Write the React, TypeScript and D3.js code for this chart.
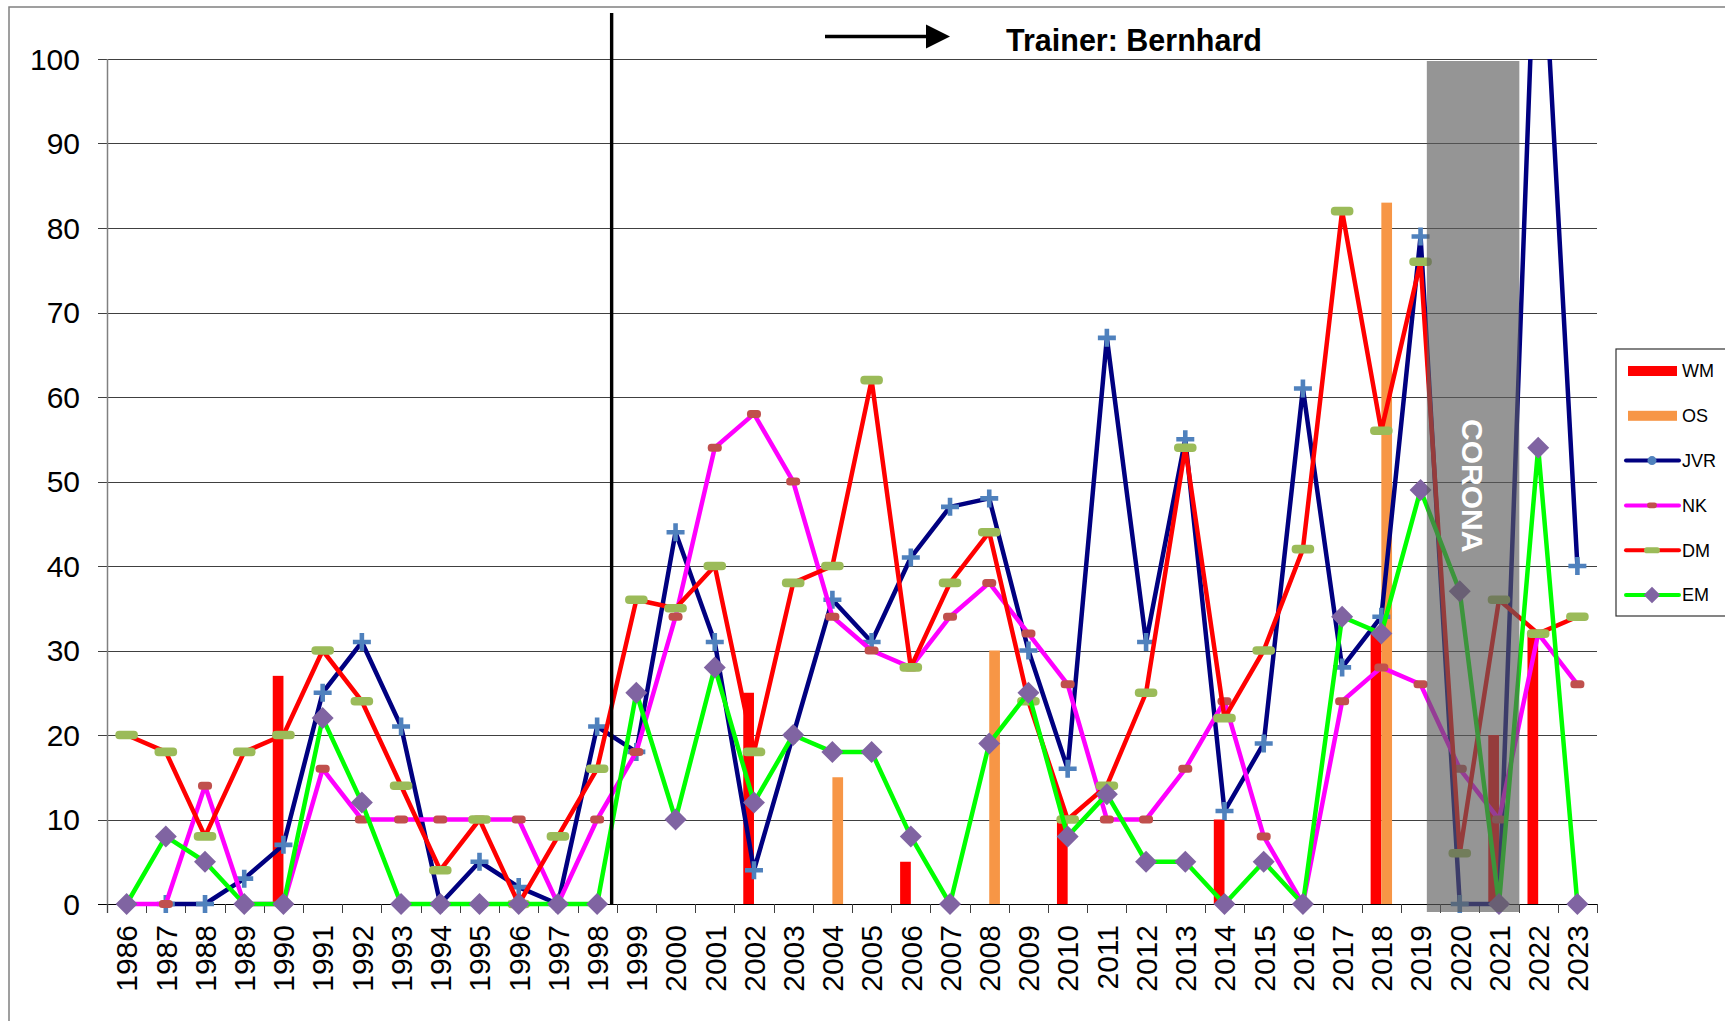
import { useEffect, useRef } from "react";
import * as d3 from "d3";

// categories
const years = [
  "1986", "1987", "1988", "1989", "1990", "1991", "1992", "1993", "1994", "1995",
  "1996", "1997", "1998", "1999", "2000", "2001", "2002", "2003", "2004", "2005",
  "2006", "2007", "2008", "2009", "2010", "2011", "2012", "2013", "2014", "2015",
  "2016", "2017", "2018", "2019", "2020", "2021", "2022", "2023",
];

// bar series (only years with a value)
const wmBars: [string, number][] = [
  ["1990", 27], ["2002", 25], ["2006", 5], ["2010", 10],
  ["2014", 10], ["2018", 32], ["2021", 20], ["2022", 32],
];
const osBars: [string, number][] = [["2004", 15], ["2008", 30], ["2018", 83]];

// line series, one value per year (null = no entry)
const jvr = [null, 0, 0, 3, 7, 25, 31, 21, 0, 5, 2, 0, 21, 18, 44, 31, 4, 20, 36, 31, 41, 47, 48, 30, 16, 67, 31, 55, 11, 19, 61, 28, 34, 79, 0, 0, 125, 40];
const nk = [0, 0, 14, 0, 0, 16, 10, 10, 10, 10, 10, 0, 10, 18, 34, 54, 58, 50, 34, 30, 28, 34, 38, 32, 26, 10, 10, 16, 24, 8, 0, 24, 28, 26, 16, 10, 32, 26];
const dm = [20, 18, 8, 18, 20, 30, 24, 14, 4, 10, 0, 8, 16, 36, 35, 40, 18, 38, 40, 62, 28, 38, 44, 24, 10, 14, 25, 54, 22, 30, 42, 82, 56, 76, 6, 36, 32, 34];
const em = [0, 8, 5, 0, 0, 22, 12, 0, 0, 0, 0, 0, 0, 25, 10, 28, 12, 20, 18, 18, 8, 0, 19, 25, 8, 13, 5, 5, 0, 5, 0, 34, 32, 49, 37, 0, 54, 0];

const yTicks = [0, 10, 20, 30, 40, 50, 60, 70, 80, 90, 100];

const FONT = "'Liberation Sans', Arial, sans-serif";
const W = 1725;
const H = 1021;

type Marker = "plus" | "dash" | "longdash" | "diamond";

const lineSeries: { name: string; values: (number | null)[]; color: string; marker: Marker; markerColor: string }[] = [
  { name: "JVR", values: jvr, color: "#000080", marker: "plus", markerColor: "#4F81BD" },
  { name: "NK", values: nk, color: "#FF00FF", marker: "dash", markerColor: "#C0504D" },
  { name: "DM", values: dm, color: "#FF0000", marker: "longdash", markerColor: "#9BBB59" },
  { name: "EM", values: em, color: "#00FF00", marker: "diamond", markerColor: "#8064A2" },
];

function drawMarker(sel: any, kind: Marker, color: string, s = 1) {
  if (kind === "plus") {
    sel.append("path")
      .attr("d", `M${-9 * s},0H${9 * s}M0,${-9 * s}V${9 * s}`)
      .attr("stroke", color)
      .attr("stroke-width", 4.6 * s)
      .attr("fill", "none");
  } else if (kind === "dash") {
    sel.append("rect")
      .attr("x", -7 * s).attr("y", -4 * s)
      .attr("width", 14 * s).attr("height", 8 * s)
      .attr("rx", 3.5 * s)
      .attr("fill", color);
  } else if (kind === "longdash") {
    sel.append("rect")
      .attr("x", -11.3 * s).attr("y", -4.3 * s)
      .attr("width", 22.6 * s).attr("height", 8.6 * s)
      .attr("rx", 4 * s)
      .attr("fill", color);
  } else {
    sel.append("path")
      .attr("d", `M0,${-11 * s}L${11 * s},0L0,${11 * s}L${-11 * s},0Z`)
      .attr("fill", color);
  }
}

export default function App() {
  const ref = useRef<SVGSVGElement>(null);

  useEffect(() => {
    const el = ref.current;
    if (!el) return;
    const svg = d3.select(el);
    svg.selectAll("*").remove();

    const left = 107;
    const right = 1597;
    const top = 59;
    const bottom = 904;

    const x = d3.scaleBand<string>().domain(years).range([left, right]).padding(0);
    const step = x.step();
    const cx = (yr: string) => (x(yr) as number) + step / 2;
    const y = d3.scaleLinear().domain([0, 100]).range([bottom, top]);
    const barW = 10.7;
    const sub = d3.scaleBand<string>().domain(["WM", "OS"]).range([step / 2 - barW, step / 2 + barW]);

    // outer frame
    svg.append("rect")
      .attr("x", 9).attr("y", 7).attr("width", W + 50).attr("height", H + 50)
      .attr("fill", "#fff").attr("stroke", "#808080").attr("stroke-width", 1.5);

    const defs = svg.append("defs");
    defs.append("clipPath").attr("id", "plotclip")
      .append("rect").attr("x", 0).attr("y", top).attr("width", W).attr("height", H - top);

    // gridlines + y labels
    const grid = svg.append("g");
    yTicks.forEach((t) => {
      grid.append("line")
        .attr("x1", left - 9).attr("x2", right)
        .attr("y1", Math.round(y(t)) + 0.5).attr("y2", Math.round(y(t)) + 0.5)
        .attr("stroke", t === 0 ? "#000" : "#404040")
        .attr("stroke-width", 1.2);
      grid.append("text")
        .attr("x", 80).attr("y", y(t)).attr("dy", "0.36em")
        .attr("text-anchor", "end")
        .attr("font-family", FONT).attr("font-size", 30)
        .attr("fill", "#000")
        .text(t);
    });
    // y axis line
    grid.append("line")
      .attr("x1", left + 0.5).attr("x2", left + 0.5)
      .attr("y1", top).attr("y2", bottom + 9)
      .attr("stroke", "#808080").attr("stroke-width", 1.5);

    // x ticks + labels
    const xAxis = svg.append("g");
    d3.range(years.length + 1).forEach((i) => {
      const xx = Math.round(left + i * step) + 0.5;
      xAxis.append("line")
        .attr("x1", xx).attr("x2", xx).attr("y1", bottom).attr("y2", bottom + 9)
        .attr("stroke", "#404040").attr("stroke-width", 1);
    });
    years.forEach((yr) => {
      xAxis.append("text")
        .attr("transform", `translate(${cx(yr)},925) rotate(-90)`)
        .attr("dy", "0.36em")
        .attr("text-anchor", "end")
        .attr("font-family", FONT).attr("font-size", 30)
        .attr("fill", "#000")
        .text(yr);
    });

    // bars
    const bars = svg.append("g");
    const addBars = (data: [string, number][], key: string, color: string) => {
      bars.selectAll(`rect.${key}`)
        .data(data)
        .join("rect")
        .attr("class", key)
        .attr("x", (d) => (x(d[0]) as number) + (sub(key) as number))
        .attr("y", (d) => y(d[1]))
        .attr("width", sub.bandwidth())
        .attr("height", (d) => bottom - y(d[1]))
        .attr("fill", color);
    };
    addBars(wmBars, "WM", "#FF0000");
    addBars(osBars, "OS", "#F79646");

    // lines
    const plot = svg.append("g").attr("clip-path", "url(#plotclip)");
    const line = d3.line<number | null>()
      .defined((d) => d != null)
      .x((_, i) => cx(years[i]))
      .y((d) => y(d as number));

    lineSeries.forEach((s) => {
      const g = plot.append("g");
      g.append("path")
        .attr("d", line(s.values))
        .attr("fill", "none")
        .attr("stroke", s.color)
        .attr("stroke-width", 4.5)
        .attr("stroke-linejoin", "round");
      s.values.forEach((v, i) => {
        if (v == null) return;
        const m = g.append("g").attr("transform", `translate(${cx(years[i])},${y(v)})`);
        drawMarker(m, s.marker, s.markerColor);
      });
    });

    // corona overlay
    const boxX0 = cx("2019") + 0.16 * step;
    const boxX1 = cx("2021") + 0.52 * step;
    svg.append("rect")
      .attr("x", boxX0).attr("y", top + 2)
      .attr("width", boxX1 - boxX0).attr("height", bottom + 8 - (top + 2))
      .attr("fill", "rgb(92,92,92)")
      .attr("fill-opacity", 0.65);
    svg.append("text")
      .attr("transform", `translate(${(boxX0 + boxX1) / 2},${y(49.5)}) rotate(90)`)
      .attr("text-anchor", "middle")
      .attr("dy", "0.36em")
      .attr("font-family", FONT).attr("font-size", 30).attr("font-weight", 700)
      .attr("fill", "#fff")
      .text("CORONA");

    // trainer change marker
    const vx = cx("1998") + 0.37 * step;
    svg.append("line")
      .attr("x1", vx).attr("x2", vx).attr("y1", 13).attr("y2", bottom + 1)
      .attr("stroke", "#000").attr("stroke-width", 3.4);

    svg.append("line")
      .attr("x1", 825).attr("x2", 930).attr("y1", 36.5).attr("y2", 36.5)
      .attr("stroke", "#000").attr("stroke-width", 3.5);
    svg.append("path")
      .attr("d", "M926,24.5L950,36.5L926,48.5Z")
      .attr("fill", "#000");
    svg.append("text")
      .attr("x", 1006).attr("y", 51)
      .attr("font-family", FONT).attr("font-size", 30.5).attr("font-weight", 700)
      .attr("fill", "#000")
      .text("Trainer: Bernhard");

    // legend
    const lg = svg.append("g");
    lg.append("rect")
      .attr("x", 1616).attr("y", 349).attr("width", 140).attr("height", 267)
      .attr("fill", "#fff").attr("stroke", "#333").attr("stroke-width", 1.2);
    const legendItems = [
      { name: "WM", type: "bar", color: "#FF0000" },
      { name: "OS", type: "bar", color: "#F79646" },
      ...lineSeries.map((s) => ({ name: s.name, type: "line", color: s.color, marker: s.marker, markerColor: s.markerColor })),
    ] as any[];
    legendItems.forEach((it, i) => {
      const ly = 371 + i * 44.8;
      if (it.type === "bar") {
        lg.append("rect")
          .attr("x", 1628).attr("y", ly - 5).attr("width", 49).attr("height", 10)
          .attr("fill", it.color);
      } else {
        lg.append("line")
          .attr("x1", 1626).attr("x2", 1679).attr("y1", ly).attr("y2", ly)
          .attr("stroke", it.color).attr("stroke-width", 4).attr("stroke-linecap", "round");
        const m = lg.append("g").attr("transform", `translate(1652,${ly})`);
        if (it.marker === "plus") {
          m.append("circle").attr("r", 4.5).attr("fill", it.markerColor);
        } else {
          drawMarker(m, it.marker, it.markerColor, it.marker === "diamond" ? 0.75 : 0.7);
        }
      }
      lg.append("text")
        .attr("x", 1682).attr("y", ly).attr("dy", "0.36em")
        .attr("font-family", FONT).attr("font-size", 18)
        .attr("fill", "#000")
        .text(it.name);
    });
  }, []);

  return (
    <svg
      ref={ref}
      width={W}
      height={H}
      style={{ position: "absolute", left: 0, top: 0, background: "#fff" }}
    />
  );
}
